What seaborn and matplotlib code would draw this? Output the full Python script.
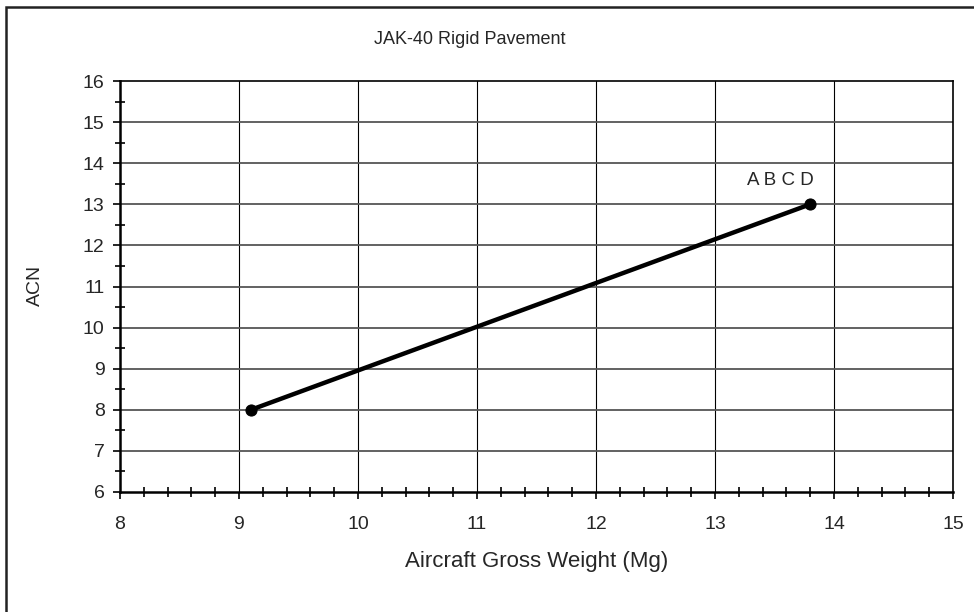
import matplotlib
matplotlib.use("Agg")
import matplotlib.pyplot as plt
import seaborn as sns
import pandas as pd
from matplotlib.patches import Rectangle
from matplotlib.ticker import MultipleLocator

# Data
weight = [9.1, 13.8]
acn = [8, 13]
label_text = "A B C D"
label_pos = (13.55, 13.58)

x_ticks = list(range(8, 16))
y_ticks = list(range(6, 17))

sns.set_style("white")
plt.rcParams['font.family'] = ['Liberation Sans', 'DejaVu Sans']

df = pd.DataFrame({"weight": weight, "acn": acn})

fig = plt.figure(figsize=(9.74, 6.12), dpi=100)
ax = fig.add_axes([120 / 974, 1 - 492 / 612, (953 - 120) / 974, (492 - 81) / 612])

# grid
for xv in x_ticks[1:-1]:
    ax.axvline(xv, color="black", lw=0.8, zorder=1)
for yv in y_ticks[1:-1]:
    ax.axhline(yv, color="#555555", lw=1.3, zorder=1)

sns.lineplot(data=df, x="weight", y="acn", color="black", lw=3.2,
             marker="o", markersize=8, markeredgecolor="black", ax=ax, zorder=3)

ax.text(*label_pos, label_text, ha="center", va="center", fontsize=13.5)

ax.set_xlim(8, 15)
ax.set_ylim(6, 16)
ax.set_xticks(x_ticks)
ax.set_yticks(y_ticks)
ax.xaxis.set_minor_locator(MultipleLocator(0.2))
ax.yaxis.set_minor_locator(MultipleLocator(0.5))
ax.tick_params(which="both", bottom=True, left=True, top=False, right=False)
ax.tick_params(which="major", direction="out", length=5, width=1.2, color="black",
               labelsize=14)
ax.tick_params(which="minor", direction="inout", length=7, width=1.2, color="black")
ax.tick_params(axis="x", which="major", pad=12)
ax.tick_params(axis="y", which="major", pad=6)

for side in ["left", "bottom"]:
    ax.spines[side].set_linewidth(1.8)
for side in ["right", "top"]:
    ax.spines[side].set_linewidth(1.2)
for s in ax.spines.values():
    s.set_color("black")

ax.set_xlabel("")
ax.set_ylabel("")
fig.text(537 / 974, 1 - 561 / 612, "Aircraft Gross Weight (Mg)", ha="center", va="center", fontsize=16)
fig.text(35 / 974, 1 - 285 / 612, "ACN", ha="center", va="center", rotation=90, fontsize=14)
fig.text(470 / 974, 1 - 40 / 612, "JAK-40 Rigid Pavement", ha="center", va="center", fontsize=13)

# outer chart border
fig.patches.append(Rectangle((6 / 974, -0.05), 1.2, 1 - 7 / 612 + 0.05,
                             transform=fig.transFigure, fill=False,
                             edgecolor="#222222", lw=1.8))

fig.savefig("out.png", dpi=100, facecolor="white")
